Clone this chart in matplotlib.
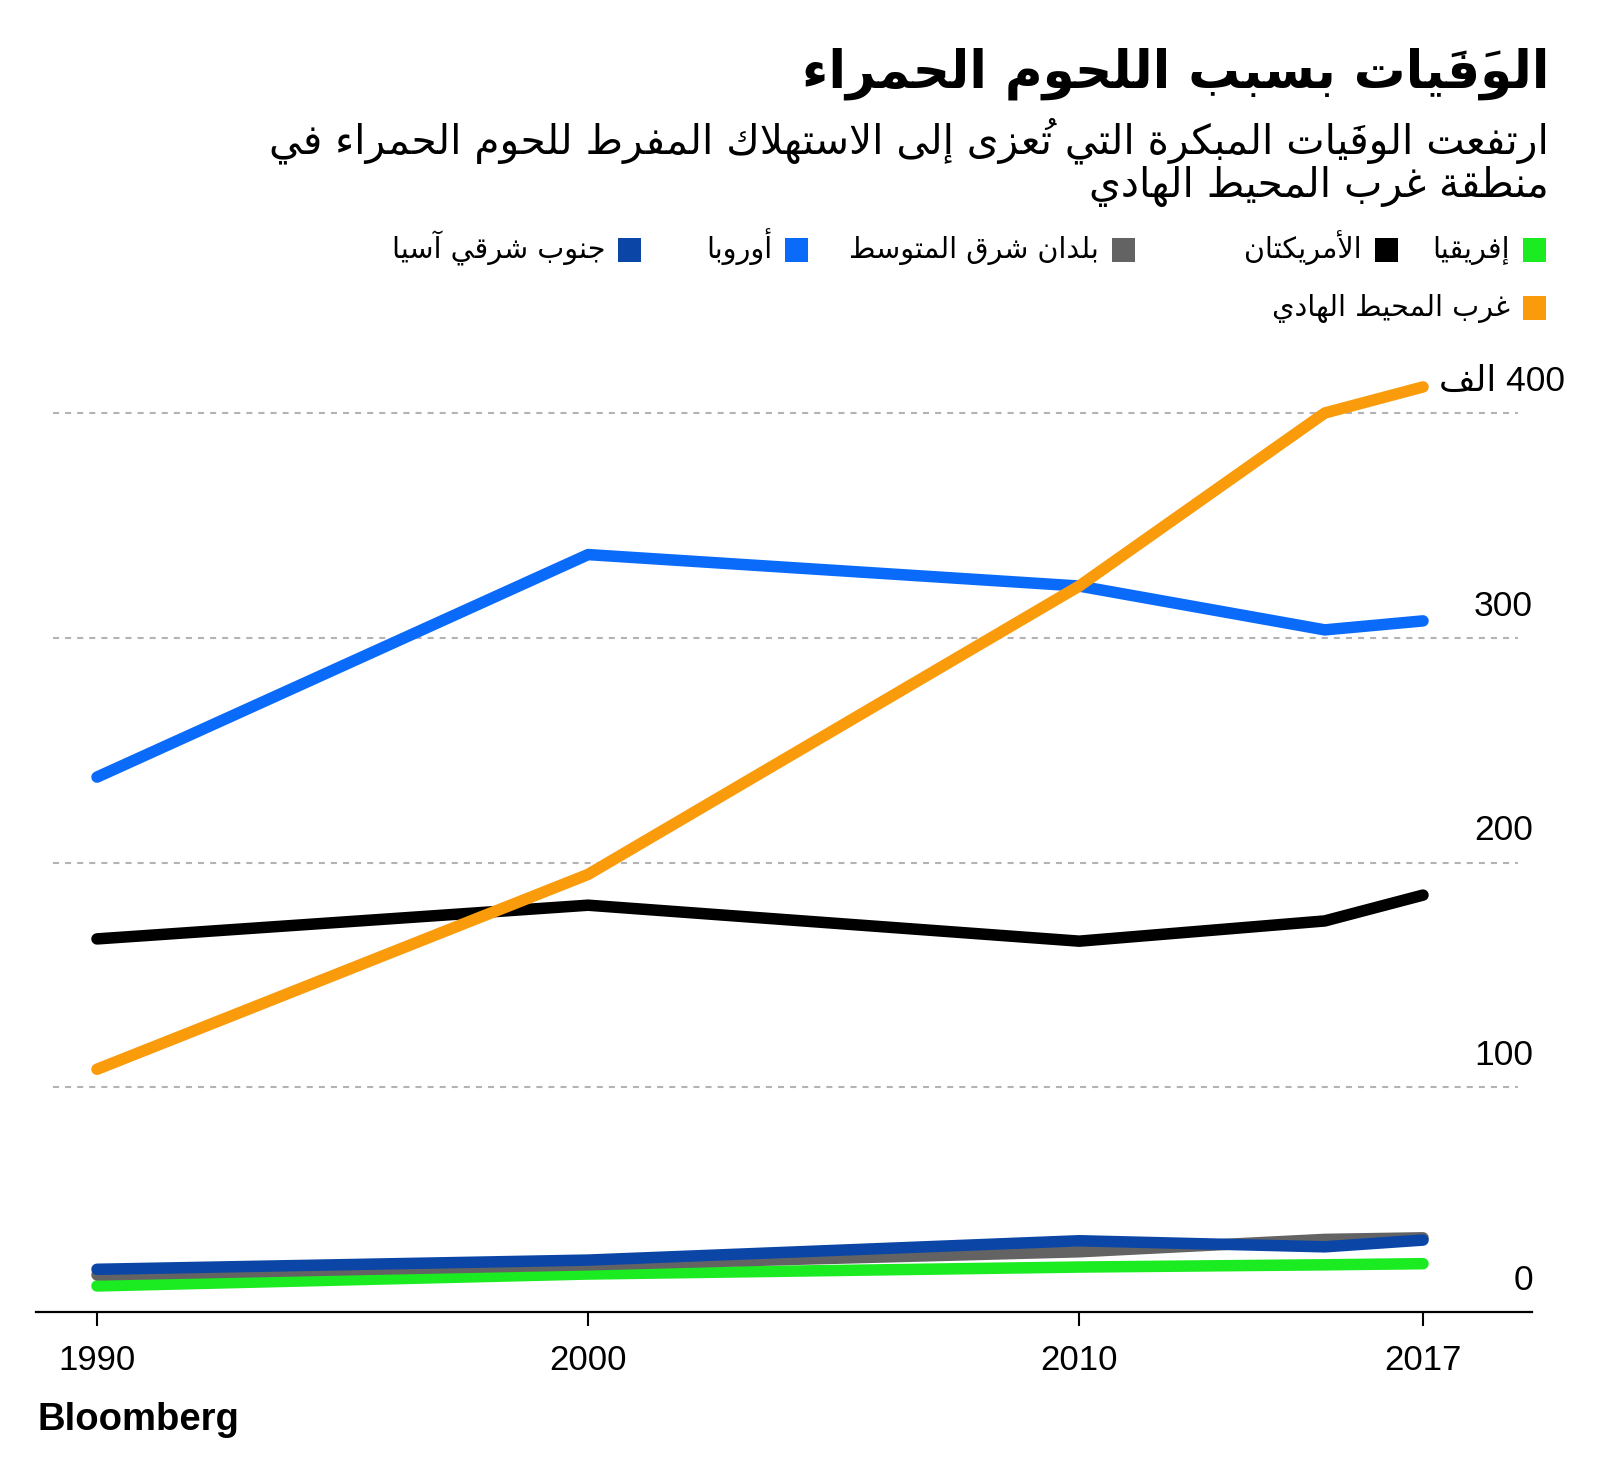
import re
import matplotlib
matplotlib.use('Agg')
import matplotlib.pyplot as plt
from matplotlib.patches import Rectangle
from matplotlib import font_manager as fm

# ---------------- data ----------------
years = [1990, 2000, 2010, 2015, 2017]
series_names = ['إفريقيا', 'الأمريكتان', 'بلدان شرق المتوسط', 'أوروبا',
                'جنوب شرقي آسيا', 'غرب المحيط الهادي']
africa = [11.6, 16.9, 20.0, 21.0, 21.5]
americas = [166, 181, 165, 174, 185.5]
east_med = [16.5, 21.0, 26.8, 32.3, 33.0]
europe = [238, 337, 323, 303.5, 307.5]
se_asia = [19.0, 23.1, 31.7, 29.0, 32.0]
w_pacific = [108, 194.7, 323, 400, 411.6]
series_colors = ['#1BEB21', '#000000', '#636363', '#0A6BFA', '#0B46A6', '#FA9B0B']
xticks = [1990, 2000, 2010, 2017]
ytick_vals = [0, 100, 200, 300, 400]
ytick_labels = ['0', '100', '200', '300', '400 الف']
title = 'الوَفَيات بسبب اللحوم الحمراء'
subtitle_lines = ['ارتفعت الوفَيات المبكرة التي تُعزى إلى الاستهلاك المفرط للحوم الحمراء في',
                  'منطقة غرب المحيط الهادي']
source = 'Bloomberg'

# ---------------- Arabic shaping (presentation forms + visual order) ----------------
_AR_SEQ = [('\u0621', 1), ('\u0622', 2), ('\u0623', 2), ('\u0624', 2), ('\u0625', 2),
           ('\u0626', 4), ('\u0627', 2), ('\u0628', 4), ('\u0629', 2), ('\u062A', 4),
           ('\u062B', 4), ('\u062C', 4), ('\u062D', 4), ('\u062E', 4), ('\u062F', 2),
           ('\u0630', 2), ('\u0631', 2), ('\u0632', 2), ('\u0633', 4), ('\u0634', 4),
           ('\u0635', 4), ('\u0636', 4), ('\u0637', 4), ('\u0638', 4), ('\u0639', 4),
           ('\u063A', 4), ('\u0641', 4), ('\u0642', 4), ('\u0643', 4), ('\u0644', 4),
           ('\u0645', 4), ('\u0646', 4), ('\u0647', 4), ('\u0648', 2), ('\u0649', 2),
           ('\u064A', 4)]
FORMS = {}
_code = 0xFE80
for _ch, _n in _AR_SEQ:
    FORMS[_ch] = [chr(_code + k) for k in range(_n)]
    _code += _n
LAM = '\u0644'
LAM_ALEF = {'\u0622': 0xFEF5, '\u0623': 0xFEF7, '\u0625': 0xFEF9, '\u0627': 0xFEFB}
LTR_RE = re.compile(r'[0-9A-Za-z.,%]')


def is_mark(c):
    return '\u064B' <= c <= '\u0652' or c == '\u0670'


def ar(s):
    chars = list(s)
    n = len(chars)

    def prev_base(i):
        j = i - 1
        while j >= 0 and is_mark(chars[j]):
            j -= 1
        return j

    def next_base(i):
        j = i + 1
        while j < n and is_mark(chars[j]):
            j += 1
        return j

    units = []
    i = 0
    while i < n:
        c = chars[i]
        if is_mark(c):
            if units:
                units[-1] = c + units[-1]
            i += 1
            continue
        if c in FORMS:
            p = prev_base(i)
            jp = (p >= 0 and chars[p] in FORMS and len(FORMS[chars[p]]) == 4
                  and len(FORMS[c]) >= 2)
            nx = next_base(i)
            if c == LAM and nx < n and chars[nx] in LAM_ALEF:
                marks = ''.join(chars[i + 1:nx])
                units.append(marks + chr(LAM_ALEF[chars[nx]] + (1 if jp else 0)))
                i = nx + 1
                continue
            jn = (len(FORMS[c]) == 4 and nx < n and chars[nx] in FORMS
                  and len(FORMS[chars[nx]]) >= 2)
            idx = 3 if (jp and jn) else (1 if jp else (2 if jn else 0))
            units.append(FORMS[c][idx])
            i += 1
        elif LTR_RE.match(c):
            j = i
            while j < n and LTR_RE.match(chars[j]):
                j += 1
            units.append(s[i:j])
            i = j
        else:
            units.append(c)
            i += 1
    return ''.join(reversed(units))


# ---------------- figure ----------------
W, H = 1600, 1467
plt.rcParams['font.family'] = ['DejaVu Sans']
fig = plt.figure(figsize=(W / 100, H / 100), dpi=100)
fig.patch.set_facecolor('white')
renderer = fig.canvas.get_renderer()

names = {f.name for f in fm.fontManager.ttflist}
num_font = 'Liberation Sans Narrow' if 'Liberation Sans Narrow' in names else 'Liberation Sans'


def fx(px):
    return px / W


def fy(py):
    return 1 - py / H


def fit_width(t, target):
    for _ in range(3):
        w = t.get_window_extent(renderer).width
        t.set_fontsize(t.get_fontsize() * target / w)


# layout anchors (pixels)
ax_l, ax_r, ax_b, ax_t = 36, 1532, 1312, 360
x1990, x2017 = 97, 1423
ppy = (x2017 - x1990) / 27.0
ppk = (1312 - 413) / 400.0

ax = fig.add_axes([fx(ax_l), fy(ax_b), (ax_r - ax_l) / W, (ax_b - ax_t) / H])
ax.set_xlim(1990 - (x1990 - ax_l) / ppy, 2017 + (ax_r - x2017) / ppy)
ax.set_ylim(0, (ax_b - ax_t) / ppk)
ax.patch.set_alpha(0)
for sp in ['left', 'right', 'top']:
    ax.spines[sp].set_visible(False)
ax.spines['bottom'].set_linewidth(1.6)
ax.spines['bottom'].set_color('black')
ax.set_yticks([])
ax.set_xticks(xticks)
ax.set_xticklabels([str(v) for v in xticks], fontsize=25, family=num_font)
ax.tick_params(axis='x', length=10, width=1.5, pad=13, color='black', direction='out')

# gridlines
gx0 = (53 - ax_l) / (ax_r - ax_l)
gx1 = (1518 - ax_l) / (ax_r - ax_l)
for v in ytick_vals[1:]:
    ax.axhline(v, xmin=gx0, xmax=gx1, color='#b3b3b3', lw=1.5, dashes=(2.9, 2.9), zorder=1)

# y labels
for v, lab in zip(ytick_vals, ytick_labels):
    xpix = 1565 if v == ytick_vals[-1] else 1533
    ax.annotate(ar(lab), xy=(xpix, v), xycoords=('figure pixels', 'data'),
                xytext=(0, 22), textcoords='offset pixels', ha='right', va='baseline',
                fontsize=25.5, family=['Liberation Sans', 'DejaVu Sans'], annotation_clip=False)

# lines
all_series = [africa, americas, east_med, europe, se_asia, w_pacific]
for k, (vals, col) in enumerate(zip(all_series, series_colors)):
    ax.plot(years, vals, color=col, lw=8.3, solid_capstyle='round',
            solid_joinstyle='round', clip_on=False, zorder=3 + k)

# title / subtitle
t = fig.text(fx(1549), fy(87), ar(title), ha='right', va='baseline',
             fontsize=40, fontweight='bold', family='DejaVu Sans')
fit_width(t, 748)
s1 = fig.text(fx(1549), fy(153), ar(subtitle_lines[0]), ha='right', va='baseline',
              fontsize=28, family='DejaVu Sans')
fit_width(s1, 1279)
s2 = fig.text(fx(1549), fy(197), ar(subtitle_lines[1]), ha='right', va='baseline',
              fontsize=s1.get_fontsize(), family='DejaVu Sans')

# legend (square right edges, in pixels, as in the reference layout)
sq = 23
gap_sl = 13
probe = fig.text(0, 0, ar(series_names[2]), fontsize=22, family='DejaVu Sans')
fit_width(probe, 250)
leg_fs = probe.get_fontsize()
probe.remove()
row1_right = [1546, 1398, 1135, 808, 641]


def legend_item(xr, yc, name, col):
    fig.patches.append(Rectangle((fx(xr - sq), fy(yc + sq / 2)), sq / W, sq / H,
                                 transform=fig.transFigure, facecolor=col, edgecolor='none'))
    fig.text(fx(xr - sq - gap_sl), fy(yc + 8), ar(name), ha='right', va='baseline',
             fontsize=leg_fs, family='DejaVu Sans')


for xr, nm, col in zip(row1_right, series_names[:5], series_colors[:5]):
    legend_item(xr, 250, nm, col)
legend_item(row1_right[0], 308, series_names[5], series_colors[5])

# source
b = fig.text(fx(38), fy(1430), source, ha='left', va='baseline', fontsize=27,
             fontweight='bold', family='Liberation Sans')
fit_width(b, 202)

fig.savefig('out.png', dpi=100, facecolor='white')
